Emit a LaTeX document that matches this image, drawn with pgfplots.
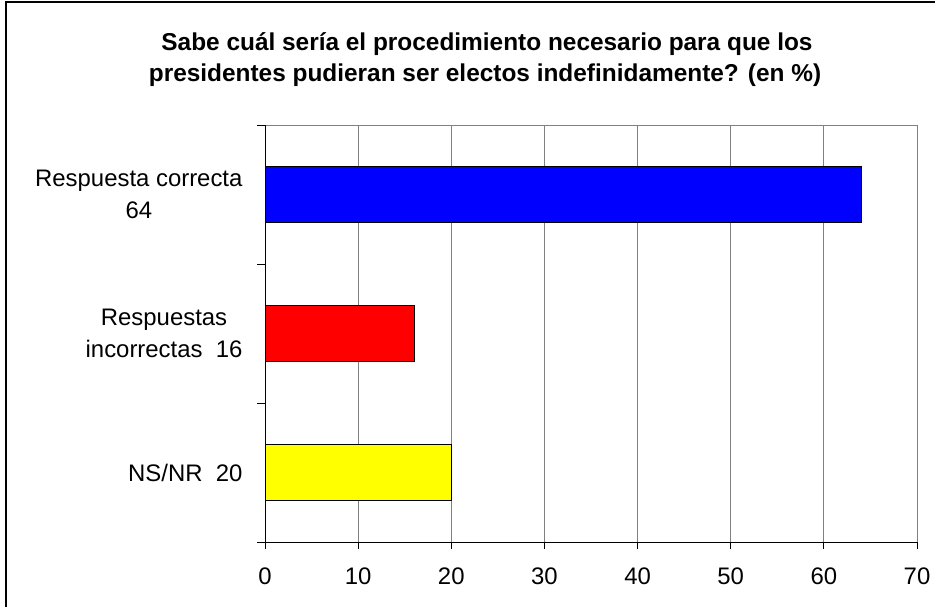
\documentclass[border=0pt]{standalone}
\usepackage{pgfplots}
\pgfplotsset{compat=1.18}
\usepackage{fontspec}
\setmainfont{Liberation Sans}
\definecolor{gridgray}{RGB}{128,128,128}
\begin{document}
\begin{tikzpicture}[x=1bp,y=1bp]
\useasboundingbox (0,0) rectangle (935,-607);
\draw[line width=1.5bp] (6,-700) -- (6,-2) -- (1000,-2);
\node[anchor=base,font=\fontsize{24.5}{30}\selectfont\bfseries] at (487,-51) {Sabe cuál sería el procedimiento necesario para que los};
\node[anchor=base,font=\fontsize{24.5}{30}\selectfont\bfseries] at (485,-82) {presidentes pudieran ser electos indefinidamente? (en \%)};
\begin{axis}[
  at={(265bp,-542bp)}, anchor=south west,
  scale only axis, width=652bp, height=417bp,
  xmin=0, xmax=70, ymin=0.5, ymax=3.5,
  xbar, bar width=56bp,
  axis line style={gridgray, line width=1bp},
  xtick={0,10,...,70},
  xtick pos=bottom, ytick pos=left,
  xmajorgrids, major grid style={gridgray, line width=1bp},
  ytick={1,2,3},
  yticklabels={{NS/NR\ \ 20},{Respuestas\\incorrectas\ \ 16},{Respuesta correcta\\64}},
  y tick label style={align=center, font=\fontsize{24}{32}\selectfont, xshift=-19bp},
  x tick label style={font=\fontsize{24}{28}\selectfont, yshift=-22bp},
  /pgf/number format/assume math mode=true,
  major tick length=0pt,
  extra y ticks={0.5,1.5,2.5,3.5},
  extra y tick labels={},
  extra y tick style={major tick length=8bp, tick align=outside, tick style={black, line width=1bp}, ymajorgrids=false, ytick pos=left},
  extra x ticks={0,10,...,70},
  extra x tick labels={},
  extra x tick style={major tick length=7bp, tick align=outside, tick style={black, line width=1bp}, xtick pos=bottom},
  clip=false,
]
\addplot[bar shift=0pt, fill={rgb,255:red,0;green,0;blue,255}, draw=black, line width=1bp] coordinates {(64,3)};
\addplot[bar shift=0pt, fill={rgb,255:red,255;green,0;blue,0}, draw=black, line width=1bp] coordinates {(16,2)};
\addplot[bar shift=0pt, fill={rgb,255:red,255;green,255;blue,0}, draw=black, line width=1bp] coordinates {(20,1)};
\draw[black, line width=1bp] (rel axis cs:0,1) -- (rel axis cs:0,0) -- (rel axis cs:1,0);
\end{axis}
\end{tikzpicture}
\end{document}
